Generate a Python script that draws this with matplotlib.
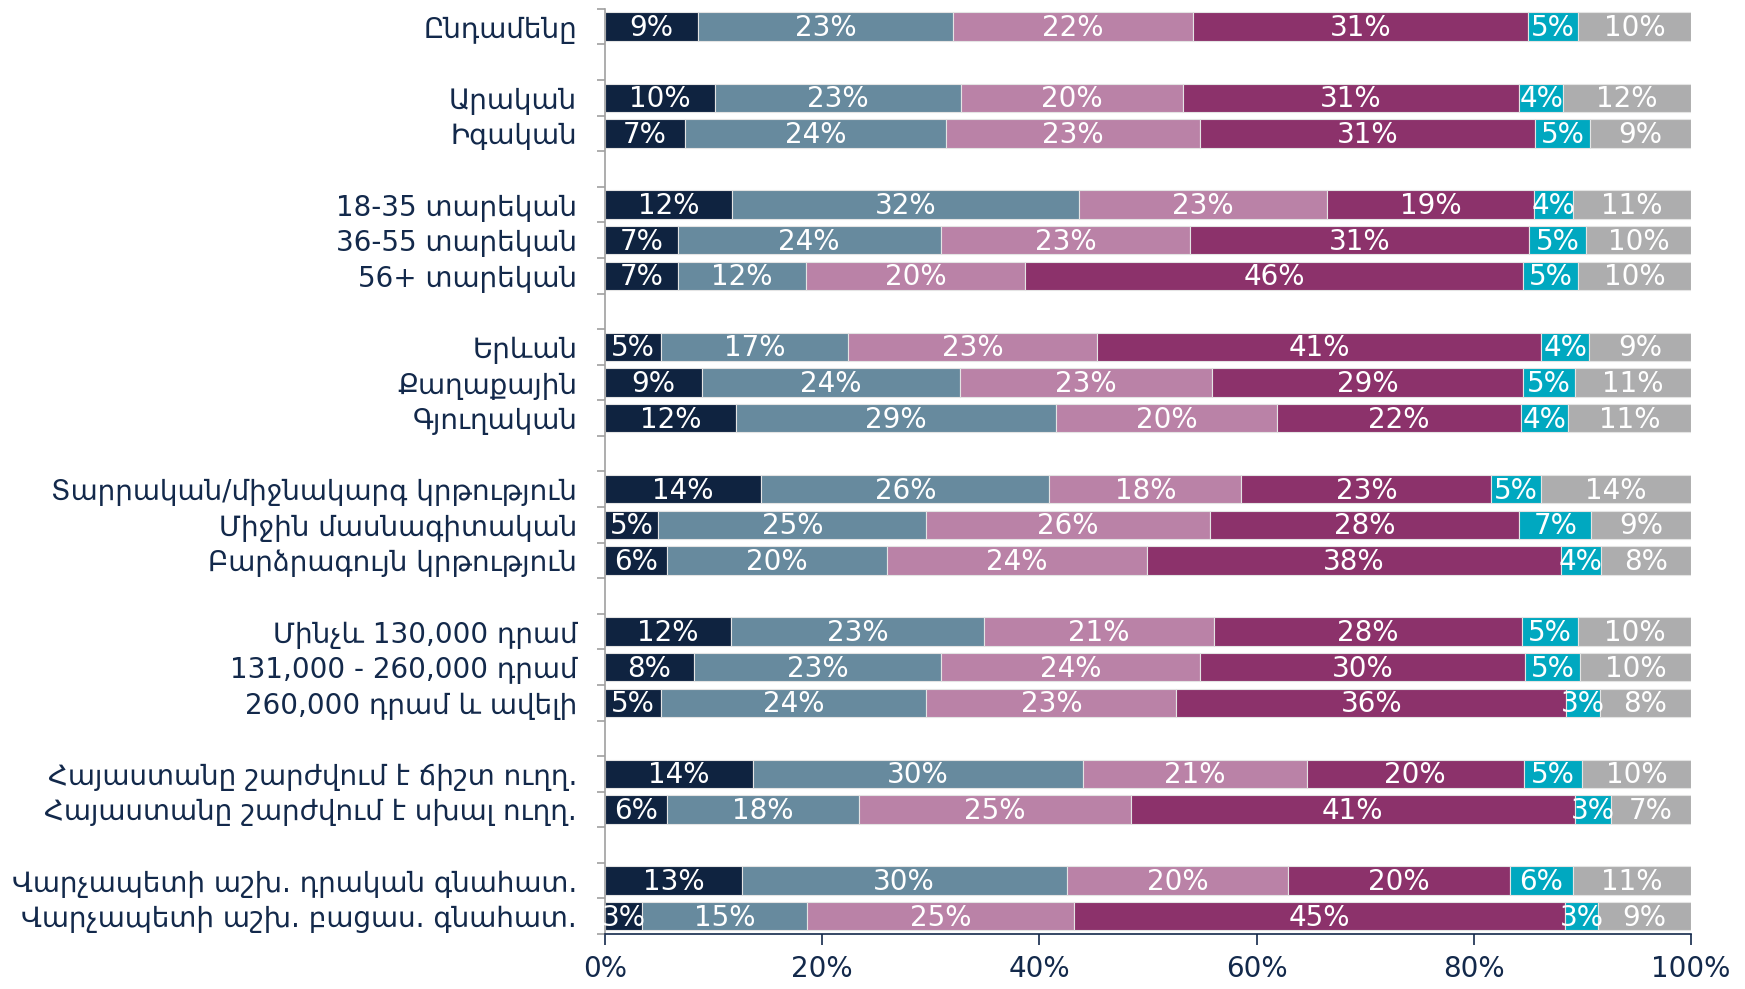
import numpy as np
import matplotlib.pyplot as plt
from matplotlib.ticker import FixedLocator, PercentFormatter

# row labels, split into groups (a blank slot between groups)
labels = [
    "Ընդամենը",
    "Արական", "Իգական",
    "18-35 տարեկան", "36-55 տարեկան", "56+ տարեկան",
    "Երևան", "Քաղաքային", "Գյուղական",
    "Տարրական/միջնակարգ կրթություն", "Միջին մասնագիտական", "Բարձրագույն կրթություն",
    "Մինչև 130,000 դրամ", "131,000 - 260,000 դրամ", "260,000 դրամ և ավելի",
    "Հայաստանը շարժվում է ճիշտ ուղղ.", "Հայաստանը շարժվում է սխալ ուղղ.",
    "Վարչապետի աշխ. դրական գնահատ.", "Վարչապետի աշխ. բացաս. գնահատ.",
]
group_sizes = [1, 2, 3, 3, 3, 3, 2, 2]

# shares (%) per answer option
s1 = [8.6, 10.1, 7.4, 11.7, 6.7, 6.7, 5.2, 8.9, 12.1, 14.4, 4.9, 5.7, 11.6, 8.2, 5.2, 13.6, 5.7, 12.6, 3.4]
s2 = [23.4, 22.7, 24.0, 31.9, 24.2, 11.8, 17.2, 23.8, 29.4, 26.5, 24.7, 20.3, 23.3, 22.7, 24.4, 30.4, 17.7, 29.9, 15.2]
s3 = [22.1, 20.4, 23.4, 22.9, 23.0, 20.2, 22.9, 23.2, 20.4, 17.7, 26.1, 23.9, 21.2, 23.9, 23.0, 20.6, 25.0, 20.4, 24.6]
s4 = [30.9, 31.0, 30.8, 19.0, 31.2, 45.8, 40.9, 28.6, 22.4, 23.0, 28.5, 38.1, 28.3, 29.9, 35.9, 20.0, 40.9, 20.4, 45.2]
s5 = [4.6, 4.0, 5.1, 3.6, 5.2, 5.1, 4.4, 4.8, 4.4, 4.6, 6.6, 3.7, 5.2, 5.1, 3.1, 5.4, 3.3, 5.8, 3.0]
s6 = [10.4, 11.8, 9.3, 10.9, 9.7, 10.4, 9.4, 10.7, 11.3, 13.8, 9.2, 8.3, 10.4, 10.2, 8.4, 10.0, 7.4, 10.9, 8.6]

series = [s1, s2, s3, s4, s5, s6]
colors = ["#0f2340", "#678a9e", "#ba82a7", "#8c326b", "#00a8c0", "#adadae"]
navy = "#13294b"

# slot positions with a gap after each group
pos = []
slot = 0
for g in group_sizes:
    for _ in range(g):
        pos.append(slot)
        slot += 1
    slot += 1
n_slots = slot - 1
pos = np.array(pos)

plt.rcParams["font.family"] = ["DejaVu Sans"]

fig = plt.figure(figsize=(17.45, 9.89), dpi=100)
ax = fig.add_axes([0.3467, 0.0556, 0.6224, 0.9354])

left = np.zeros(len(labels))
for vals, c in zip(series, colors):
    vals = np.array(vals)
    ax.barh(pos, vals, left=left, height=0.8, color=c,
            edgecolor="#e4e4e4", linewidth=0.8)
    for y, l, v in zip(pos, left, vals):
        ax.text(l + v / 2, y + 0.04, f"{v:.0f}%", ha="center", va="center",
                color="white", fontsize=20)
    left += vals

ax.set_xlim(0, 100)
ax.set_ylim(n_slots - 0.5, -0.5)

ax.set_yticks(pos)
ax.set_yticklabels(labels, fontsize=20, color=navy)
ax.yaxis.set_minor_locator(FixedLocator(np.arange(-0.5, n_slots, 1.0)))
ax.tick_params(axis="y", which="major", length=0, pad=20)
ax.tick_params(axis="y", which="minor", length=6, width=1.2, color="#a0a0a0")

ax.set_xticks(np.arange(0, 101, 20))
ax.xaxis.set_major_formatter(PercentFormatter(decimals=0))
ax.tick_params(axis="x", length=8, width=1.2, color=navy, labelsize=20,
               labelcolor=navy, pad=7)

for s in ["top", "right"]:
    ax.spines[s].set_visible(False)
ax.spines["left"].set_color("#a0a0a0")
ax.spines["left"].set_linewidth(1.2)
ax.spines["bottom"].set_color(navy)
ax.spines["bottom"].set_linewidth(1.2)

fig.savefig("out.png", dpi=100)
